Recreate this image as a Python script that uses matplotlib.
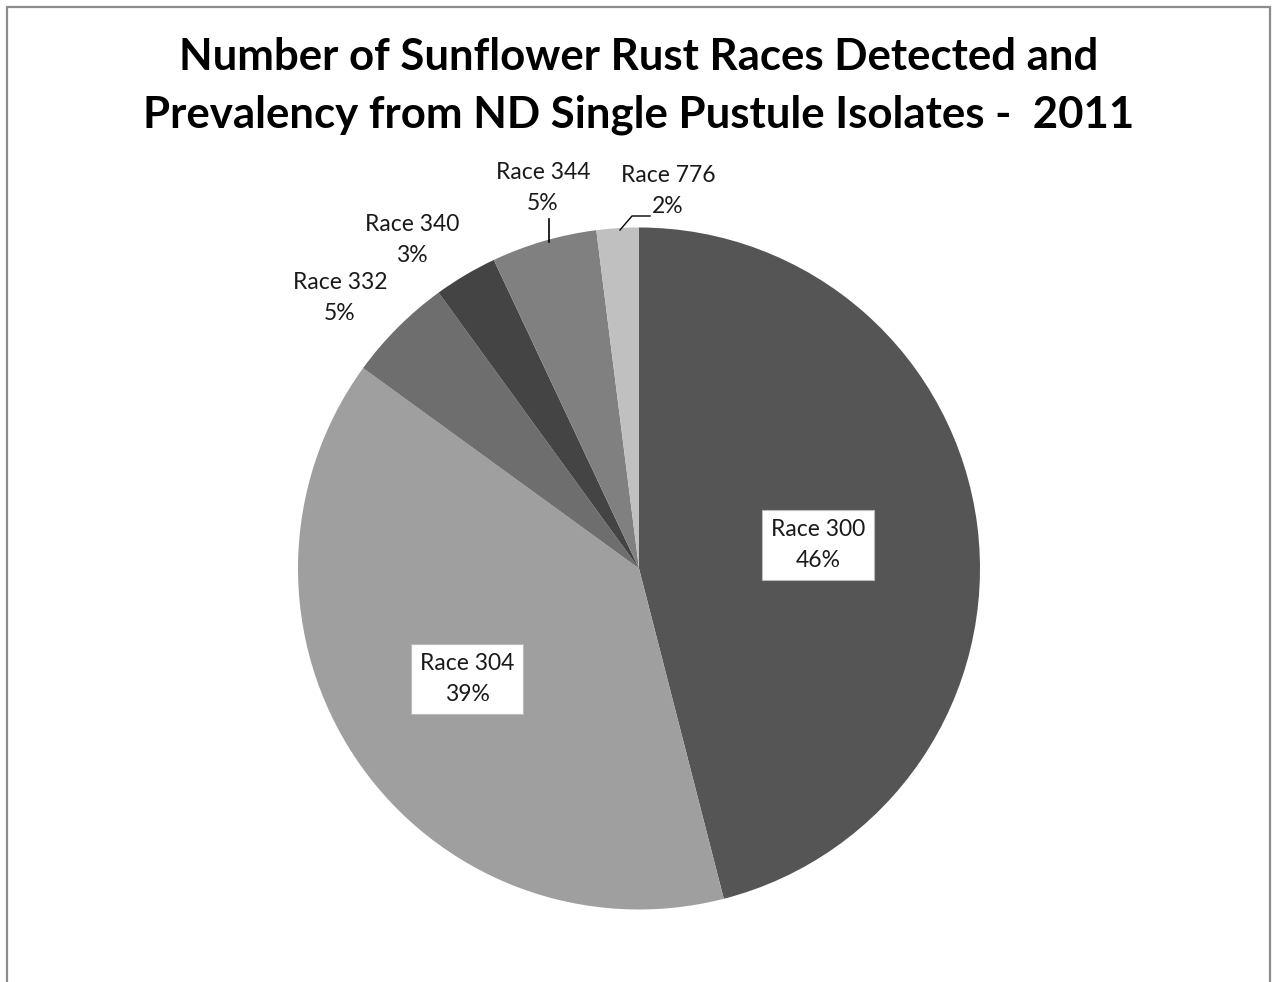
import matplotlib
matplotlib.use('Agg')
import matplotlib.pyplot as plt
from matplotlib.patches import Rectangle

# Race shares (percent), clockwise from 12 o'clock
races = ['Race 300', 'Race 304', 'Race 332', 'Race 340', 'Race 344', 'Race 776']
shares = [46, 39, 5, 3, 5, 2]
colors = ['#555555', '#9f9f9f', '#6e6e6e', '#444444', '#808080', '#c0c0c0']

W, H = 1273, 982
fig = plt.figure(figsize=(W / 100, H / 100), dpi=100)
fig.patch.set_facecolor('white')
ax = fig.add_axes([0, 0, 1, 1])

# outer chart frame
ax.add_patch(Rectangle((7, -20), 1263, H - 7 + 20, fill=False, edgecolor='#8c8c8c', linewidth=1.6))

ax.pie(shares, colors=colors, startangle=90, counterclock=False,
       center=(639, H - 568.5), radius=341, frame=True,
       wedgeprops=dict(linewidth=0))
ax.set_xlim(0, W)
ax.set_ylim(0, H)
ax.set_aspect('equal')
ax.axis('off')

title = 'Number of Sunflower Rust Races Detected and\nPrevalency from ND Single Pustule Isolates -  2011'
ax.text(639, H - 86, title, ha='center', va='center', fontsize=31.5, fontweight='bold',
        family='Lato', linespacing=1.55)

# label positions in pixel coordinates (top-left origin)
label_pos = [(818, 545), (467, 679), (340, 298), (412, 240), (543, 188), (668, 191)]
inside = [True, True, False, False, False, False]

for name, pct, (x, y), ins in zip(races, shares, label_pos, inside):
    txt = f'{name}\n{pct}%'
    kw = dict(ha='center', va='center', fontsize=16.5, family='Lato', linespacing=1.6, color='#1a1a1a')
    if ins:
        kw['bbox'] = dict(boxstyle='square,pad=0.4', facecolor='white', edgecolor='#bbbbbb', linewidth=0.8)
    ax.text(x, H - y, txt, **kw)

# leader lines
ax.plot([549, 549], [H - 219, H - 242], color='black', linewidth=1.2)
ax.plot([620, 632, 650], [H - 230, H - 216, H - 216], color='black', linewidth=1.0)

fig.savefig('out.png', dpi=100, facecolor='white')
plt.close()
